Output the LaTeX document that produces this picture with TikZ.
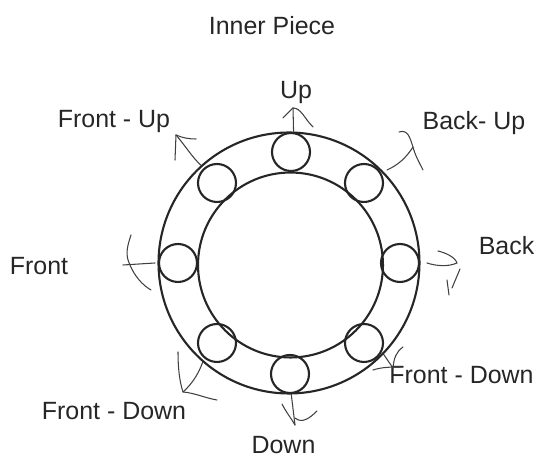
\documentclass[tikz,border=0pt]{standalone}
\usepackage{fontspec}
\setmainfont{Liberation Sans}
\tikzset{
  ring/.style={circle,draw=black!85,line width=1.2pt,inner sep=0pt},
  ball/.style={ring,minimum size=.76cm},
  sketch/.style={black!75,line width=.6pt,line cap=round},
  lab/.style={inner sep=0pt,font=\fontsize{14.2}{16}\selectfont,text=black!85}
}
\begin{document}
\begin{tikzpicture}[x=.02cm,y=-.02cm]
  \useasboundingbox (0,0) rectangle (539,462);
  \node[ring,minimum size=5.22cm] (outer) at (289,263) {};
  \node[ring,minimum size=3.7cm] (inner) at (290.5,265) {};
  \foreach \n/\x/\y in {ballU/291/152,ballFU/217/183,ballBU/364/183,ballB/400/263,ballF/178/263,ballFD/217/343,ballRD/364/343,ballD/290/374} {\node[ball] (\n) at (\x,\y) {};}
  \node[lab] (title) at (272,26) {Inner Piece};
  \node[lab] (labU) at (296,93) {Up}; \node[lab] (labFU) at (114,122) {Front - Up};
  \node[lab] (labBU) at (474,123) {Back- Up}; \node[lab] (labB) at (506.5,246) {Back};
  \node[lab] (labF) at (39,266) {Front}; \node[lab] (labRD) at (461.5,375) {Front - Down};
  \node[lab] (labFD) at (114,411) {Front - Down}; \node[lab] (labD) at (283.5,445) {Down};
  % free ends of the hand drawn arrows
  \coordinate (tipU) at (293,108); \coordinate (tipFU) at (176,135); \coordinate (tipBU) at (413,147);
  \coordinate (tipB) at (457,263); \coordinate (tipF) at (123,265); \coordinate (tipFD) at (183,392);
  \coordinate (tipRD) at (393,368); \coordinate (tipD) at (295,425);
  \coordinate (startB) at (427,263); \coordinate (startF) at (155,263); \coordinate (startBU) at (387,170);
  \draw[sketch] (outer.88) -- (tipU);
  \draw[sketch] (tipU) -- (283,118); \draw[sketch] (tipU) .. controls (301,108) and (304,118) .. (313,127);
  \draw[sketch] (outer.132) .. controls (192,157) and (187,148) .. (tipFU);
  \draw[sketch] (tipFU) -- (175,160); \draw[sketch] (tipFU) .. controls (183,138) and (189,139) .. (196,139);
  \draw[sketch] (startBU) .. controls (398,165) and (406,158) .. (tipBU);
  \draw[sketch] (399,132) .. controls (408,129) and (410,138) .. (tipBU) .. controls (415,155) and (419,162) .. (423,170);
  \draw[sketch] (startB) .. controls (436,266) and (448,267) .. (tipB) .. controls (455,257) and (446,253) .. (438,251);
  \draw[sketch] (460,269) -- (452,288); \draw[sketch] (447,280) -- (449,295);
  \draw[sketch] (startF) -- (tipF);
  \draw[sketch] (131,235) .. controls (127,247) and (125,255) .. (130,265) .. controls (134,275) and (142,285) .. (151,290);
  \draw[sketch] (outer.229) .. controls (199,372) and (194,382) .. (tipFD);
  \draw[sketch] (178,352) .. controls (178,365) and (179,380) .. (tipFD) .. controls (195,393) and (205,398) .. (217,400);
  \draw[sketch] (outer.316) -- (tipRD);
  \draw[sketch] (403,347) .. controls (396,352) and (394,358) .. (tipRD);
  \draw[sketch] (373,370) .. controls (382,367) and (392,367) .. (400,367);
  \draw[sketch] (outer.271) -- (tipD);
  \draw[sketch] (282,404) .. controls (286,412) and (291,418) .. (tipD);
  \draw[sketch] (295,418) .. controls (302,424) and (310,418) .. (317,411);
\end{tikzpicture}
\end{document}
